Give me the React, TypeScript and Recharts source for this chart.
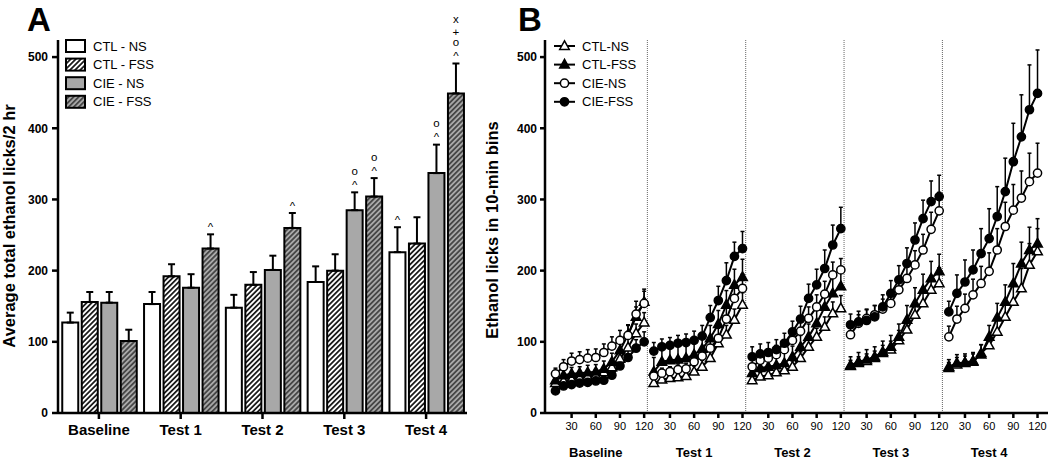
import React from 'react';
import {
  BarChart, Bar, LineChart, Line, XAxis, YAxis, ErrorBar, LabelList, ReferenceLine
} from 'recharts';

const FONT = "'Liberation Sans', Arial, sans-serif";

// ---- Panel A: totals per session ----
const sessions = ['Baseline', 'Test 1', 'Test 2', 'Test 3', 'Test 4'];
const ctlNsTotal = [127, 153, 148, 184, 226];
const ctlFssTotal = [156, 192, 180, 200, 238];
const cieNsTotal = [155, 176, 201, 285, 337];
const cieFssTotal = [101, 231, 260, 304, 449];
const ctlNsTotalSem = [14, 17, 18, 22, 35];
const ctlFssTotalSem = [14, 17, 18, 23, 37];
const cieNsTotalSem = [15, 19, 20, 25, 40];
const cieFssTotalSem = [16, 20, 21, 26, 42];
// significance symbols, listed bottom to top
const ctlNsMarks = [[], [], [], [], ['^']];
const ctlFssMarks = [[], [], [], [], []];
const cieNsMarks = [[], [], [], ['^', 'o'], ['^', 'o']];
const cieFssMarks = [[], ['^'], ['^'], ['^', 'o'], ['^', 'o', '+', 'x']];
const yTicks = [0, 100, 200, 300, 400, 500];

// ---- Panel B: cumulative licks in 10-min bins ----
const minutes = [10, 20, 30, 40, 50, 60, 70, 80, 90, 100, 110, 120];
const minuteTicks = [30, 60, 90, 120];
const ctlNsBins = [
  [42, 45, 47, 49, 51, 53, 57, 64, 76, 92, 112, 127],
  [42, 47, 49, 50, 52, 58, 65, 77, 98, 110, 131, 152],
  [46, 51, 53, 57, 60, 65, 77, 93, 107, 121, 140, 147],
  [66, 70, 73, 77, 84, 89, 102, 117, 138, 154, 173, 182],
  [63, 68, 70, 72, 84, 95, 114, 135, 156, 175, 208, 227],
];
const ctlFssBins = [
  [46, 53, 55, 56, 57, 58, 62, 72, 88, 110, 135, 156],
  [58, 72, 74, 75, 77, 82, 90, 105, 125, 152, 180, 191],
  [56, 63, 65, 67, 70, 79, 93, 107, 126, 149, 168, 178],
  [67, 72, 75, 79, 86, 93, 107, 131, 154, 173, 189, 199],
  [65, 70, 71, 73, 82, 107, 134, 156, 182, 210, 229, 238],
];
const cieNsBins = [
  [55, 65, 73, 75, 77, 78, 85, 94, 102, 109, 139, 154],
  [52, 56, 58, 61, 62, 72, 80, 91, 105, 132, 161, 175],
  [65, 74, 77, 82, 89, 102, 115, 133, 149, 167, 194, 201],
  [110, 126, 133, 138, 146, 154, 173, 189, 208, 229, 258, 284],
  [107, 132, 147, 166, 182, 199, 229, 262, 285, 302, 325, 337],
];
const cieFssBins = [
  [31, 38, 40, 42, 43, 45, 46, 53, 66, 78, 91, 100],
  [87, 93, 95, 98, 99, 102, 108, 134, 158, 186, 220, 231],
  [79, 83, 85, 89, 98, 114, 132, 161, 180, 203, 236, 259],
  [124, 128, 130, 135, 149, 168, 187, 210, 243, 273, 297, 304],
  [142, 168, 184, 201, 224, 245, 276, 311, 353, 388, 426, 449],
];
const ctlNsBinSem = [
  [5, 6, 6, 7, 7, 8, 8, 10, 10, 12, 13, 14],
  [6, 7, 7, 7, 8, 8, 9, 10, 12, 13, 15, 17],
  [5, 6, 6, 7, 7, 8, 9, 10, 12, 14, 16, 18],
  [8, 9, 10, 10, 11, 12, 14, 16, 17, 19, 20, 22],
  [8, 10, 10, 11, 12, 15, 18, 22, 25, 28, 30, 32],
];
const ctlFssBinSem = [
  [8, 8, 9, 9, 10, 10, 11, 12, 12, 13, 14, 15],
  [20, 22, 22, 22, 20, 18, 18, 18, 19, 20, 22, 25],
  [12, 14, 14, 14, 14, 15, 16, 18, 18, 20, 22, 22],
  [12, 13, 14, 14, 15, 16, 18, 20, 22, 22, 24, 24],
  [10, 12, 12, 12, 14, 16, 20, 24, 28, 30, 32, 35],
];
const cieNsBinSem = [
  [8, 10, 11, 11, 12, 12, 12, 13, 14, 15, 18, 20],
  [6, 7, 7, 8, 8, 9, 10, 12, 14, 16, 18, 20],
  [12, 12, 12, 13, 13, 14, 15, 16, 17, 18, 18, 16],
  [10, 12, 12, 13, 14, 15, 16, 18, 20, 22, 24, 26],
  [15, 18, 20, 22, 24, 26, 30, 34, 36, 38, 40, 42],
];
const cieFssBinSem = [
  [4, 5, 5, 5, 5, 5, 6, 6, 8, 10, 12, 14],
  [12, 11, 11, 11, 12, 13, 15, 17, 20, 25, 20, 24],
  [14, 14, 14, 14, 14, 15, 18, 20, 22, 26, 28, 30],
  [15, 15, 16, 16, 17, 18, 20, 22, 24, 26, 29, 30],
  [15, 26, 31, 28, 35, 42, 42, 47, 54, 59, 63, 61],
];

const SPAN = 122; // x units per session block in panel B

const barGroups = [
  { key: 'ctlNs', name: 'CTL - NS', fill: '#fff', marks: ctlNsMarks, sem: ctlNsTotalSem },
  { key: 'ctlFss', name: 'CTL - FSS', fill: 'url(#hatchWhite)', marks: ctlFssMarks, sem: ctlFssTotalSem },
  { key: 'cieNs', name: 'CIE - NS', fill: '#a8a8a8', marks: cieNsMarks, sem: cieNsTotalSem },
  { key: 'cieFss', name: 'CIE - FSS', fill: 'url(#hatchGray)', marks: cieFssMarks, sem: cieFssTotalSem },
];

const barData = sessions.map((session, i) => ({
  session,
  ctlNs: ctlNsTotal[i], ctlNsErr: [0, ctlNsTotalSem[i]],
  ctlFss: ctlFssTotal[i], ctlFssErr: [0, ctlFssTotalSem[i]],
  cieNs: cieNsTotal[i], cieNsErr: [0, cieNsTotalSem[i]],
  cieFss: cieFssTotal[i], cieFssErr: [0, cieFssTotalSem[i]],
}));

const lineSeries = [
  { key: 'ctlNs', name: 'CTL-NS', shape: 'triangle', filled: false, bins: ctlNsBins, sem: ctlNsBinSem },
  { key: 'ctlFss', name: 'CTL-FSS', shape: 'triangle', filled: true, bins: ctlFssBins, sem: ctlFssBinSem },
  { key: 'cieNs', name: 'CIE-NS', shape: 'circle', filled: false, bins: cieNsBins, sem: cieNsBinSem },
  { key: 'cieFss', name: 'CIE-FSS', shape: 'circle', filled: true, bins: cieFssBins, sem: cieFssBinSem },
];

// flat rows, with an empty row between sessions so the lines break
const lineData: any[] = [];
sessions.forEach((_, s) => {
  minutes.forEach((m, i) => {
    const row: any = { x: s * SPAN + m };
    lineSeries.forEach((ser) => {
      row[ser.key] = ser.bins[s][i];
      row[ser.key + 'Err'] = [0, ser.sem[s][i]];
    });
    lineData.push(row);
  });
  if (s < sessions.length - 1) {
    const gap: any = { x: s * SPAN + 121 };
    lineSeries.forEach((ser) => { gap[ser.key] = null; });
    lineData.push(gap);
  }
});

const xMinuteTicks = sessions.flatMap((_, s) => minuteTicks.map((m) => s * SPAN + m));
const xSessionTicks = sessions.map((_, s) => s * SPAN + 60);
const dividers = sessions.slice(1).map((_, s) => s * SPAN + 124);

const boldTick = { fill: '#000', fontSize: 12, fontWeight: 'bold', fontFamily: FONT };

// vertical centre of each glyph above its baseline, in em
const glyphMid: Record<string, number> = { '^': 0.5, o: 0.26, '+': 0.35, x: 0.26 };

const markLabel = (marks: string[][], sem: number[]) => (props: any) => {
  const { x, y, width, height, value, index } = props;
  const list = marks[index];
  if (!list || !list.length || !value) return null;
  const errTop = y - sem[index] * (height / value);
  const cx = x + width / 2;
  return (
    <g>
      {list.map((m, k) => (
        <text key={k} x={cx} y={errTop - 9 - k * 11.5 + glyphMid[m] * 11.5} textAnchor="middle"
          fontSize={11.5} fontFamily={FONT} fill="#000" stroke="none">{m}</text>
      ))}
    </g>
  );
};

const Marker = ({ cx, cy, shape, filled }: any) => {
  const fill = filled ? '#000' : '#fff';
  if (shape === 'circle') {
    return <circle cx={cx} cy={cy} r={4.1} fill={fill} stroke="#000" strokeWidth={1.5} />;
  }
  const pts = `${cx},${cy - 5.2} ${cx - 4.8},${cy + 3.4} ${cx + 4.8},${cy + 3.4}`;
  return <polygon points={pts} fill={fill} stroke="#000" strokeWidth={1.5} strokeLinejoin="miter" />;
};

const Overlay = () => (
  <svg width={1050} height={462} style={{ position: 'absolute', left: 0, top: 0, pointerEvents: 'none' }}>
    <defs>
      <pattern id="hatchWhite" patternUnits="userSpaceOnUse" width={3.6} height={3.6} patternTransform="rotate(45)">
        <rect width={3.6} height={3.6} fill="#fff" />
        <line x1={1.8} y1={0} x2={1.8} y2={3.6} stroke="#000" strokeWidth={1.6} />
      </pattern>
      <pattern id="hatchGray" patternUnits="userSpaceOnUse" width={3.6} height={3.6} patternTransform="rotate(45)">
        <rect width={3.6} height={3.6} fill="#a8a8a8" />
        <line x1={1.8} y1={0} x2={1.8} y2={3.6} stroke="#333" strokeWidth={1.5} />
      </pattern>
    </defs>
    <text x={27} y={31} fontSize={33} fontWeight="bold" fontFamily={FONT}>A</text>
    <text x={518} y={31} fontSize={33} fontWeight="bold" fontFamily={FONT}>B</text>
    <text x={9} y={226} dy="0.35em" transform="rotate(-90 9 226)" textAnchor="middle"
      fontSize={16.5} fontWeight="bold" fontFamily={FONT}>Average total ethanol licks/2 hr</text>
    <text x={492} y={230} dy="0.35em" transform="rotate(-90 492 230)" textAnchor="middle"
      fontSize={16.5} fontWeight="bold" fontFamily={FONT}>Ethanol licks in 10-min bins</text>
    {barGroups.map((g, i) => {
      const cy = 46 + i * 18.6;
      return (
        <g key={g.key}>
          <rect x={66} y={cy - 6} width={19} height={12} fill={g.fill} stroke="#000" strokeWidth={2} />
          <text x={93} y={cy} dy="0.35em" fontSize={13} fontFamily={FONT}>{g.name}</text>
        </g>
      );
    })}
    {lineSeries.map((s, i) => {
      const cy = 46 + i * 18.6;
      return (
        <g key={s.key}>
          <line x1={554} x2={575} y1={cy} y2={cy} stroke="#000" strokeWidth={2} />
          <Marker cx={564.5} cy={cy} shape={s.shape} filled={s.filled} />
          <text x={582} y={cy} dy="0.35em" fontSize={13} fontFamily={FONT}>{s.name}</text>
        </g>
      );
    })}
  </svg>
);

export default function App() {
  return (
    <div style={{ position: 'absolute', left: 0, top: 0, width: 1050, height: 462, background: '#fff', fontFamily: FONT }}>
      <div style={{ position: 'absolute', left: 0, top: 0 }}>
        <BarChart width={472} height={462} data={barData} margin={{ top: 40, right: 5, bottom: 19, left: 0 }}
          barCategoryGap={4.25} barGap={3.5}>
          <XAxis dataKey="session" height={30} tickSize={6} tickMargin={5} stroke="#000" strokeWidth={2.5}
            tick={{ ...boldTick, fontSize: 15 }} />
          <YAxis width={58} domain={[0, 524]} ticks={yTicks} tickSize={6} tickMargin={4} stroke="#000"
            strokeWidth={2.5} tick={boldTick} allowDataOverflow />
          {barGroups.map((g) => (
            <Bar key={g.key} dataKey={g.key} fill={g.fill} stroke="#000" strokeWidth={2} isAnimationActive={false}>
              <ErrorBar dataKey={g.key + 'Err'} direction="y" width={3.5} stroke="#000" strokeWidth={2} />
              <LabelList dataKey={g.key} content={markLabel(g.marks, g.sem)} />
            </Bar>
          ))}
        </BarChart>
      </div>
      <div style={{ position: 'absolute', left: 487, top: 0 }}>
        <LineChart width={563} height={462} data={lineData} margin={{ top: 40, right: 2, bottom: 0, left: 0 }}>
          <XAxis xAxisId="min" dataKey="x" type="number" domain={[-3, 621]} ticks={xMinuteTicks}
            tickFormatter={(v: number) => String(v - Math.floor(v / SPAN) * SPAN)}
            height={30} tickSize={5} tickMargin={4} stroke="#000" strokeWidth={2.5}
            tick={{ fill: '#000', fontSize: 11, fontFamily: FONT }} interval={0} />
          <XAxis xAxisId="session" dataKey="x" type="number" domain={[-3, 621]} ticks={xSessionTicks}
            tickFormatter={(v: number) => sessions[Math.round((v - 60) / SPAN)]}
            height={19} tickSize={0} tickMargin={5} axisLine={false} tickLine={false}
            tick={{ ...boldTick, fontSize: 13 }} interval={0} />
          <YAxis width={58} domain={[0, 524]} ticks={yTicks} tickSize={5} tickMargin={3} stroke="#000"
            strokeWidth={2.5} tick={boldTick} allowDataOverflow />
          {dividers.map((d) => (
            <ReferenceLine key={d} xAxisId="min" x={d} stroke="#666" strokeWidth={1} strokeDasharray="1 1" />
          ))}
          {lineSeries.map((s) => (
            <Line key={s.key} xAxisId="min" type="linear" dataKey={s.key} stroke="#000" strokeWidth={2}
              connectNulls={false} activeDot={false} isAnimationActive={false}
              dot={(p: any) => (p.value == null || p.cy == null
                ? <g key={p.index} />
                : <Marker key={p.index} cx={p.cx} cy={p.cy} shape={s.shape} filled={s.filled} />)}>
              <ErrorBar dataKey={s.key + 'Err'} direction="y" width={2} stroke="#000" strokeWidth={1.5} />
            </Line>
          ))}
        </LineChart>
      </div>
      <Overlay />
    </div>
  );
}
